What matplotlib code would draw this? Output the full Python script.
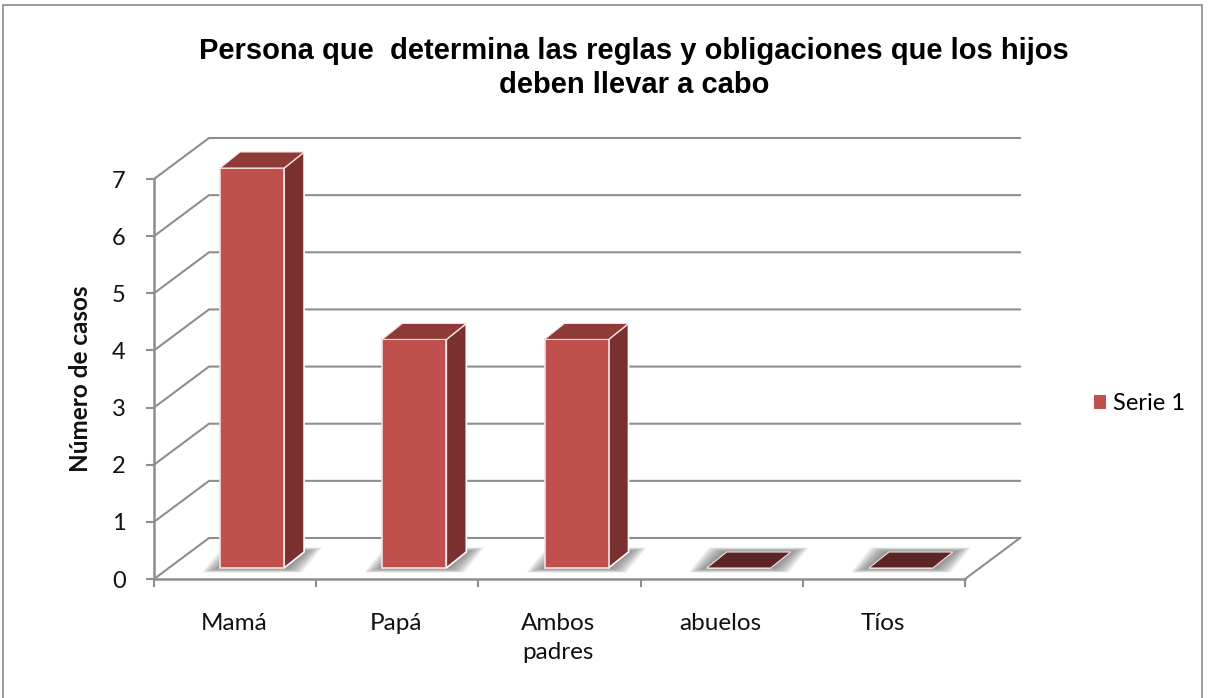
import matplotlib
matplotlib.use('agg')
from matplotlib import pyplot as plt
from matplotlib.patches import Polygon, Rectangle
import numpy as np

title = "Persona que  determina las reglas y obligaciones que los hijos\ndeben llevar a cabo"
categories = ["Mamá", "Papá", "Ambos\npadres", "abuelos", "Tíos"]
values = [7, 4, 4, 0, 0]
y_ticks = [0, 1, 2, 3, 4, 5, 6, 7]
y_label = "Número de casos"
series_name = "Serie 1"

W, H = 1213, 698
FRONT_L, FRONT_R, FRONT_B, FRONT_T = 154, 965, 579, 179

GRID = '#8e8e8e'
FACE = '#c0504d'
SIDE = '#7a302e'
TOP = '#8f3a37'
FLAT = '#5a2522'
EDGE = '#f2e2e1'

fig = plt.figure(figsize=(W / 100, H / 100), dpi=100)
fig.patch.set_facecolor('white')
fig.add_artist(Rectangle((3 / W, -0.01), (1202 - 3) / W, (H - 5) / H + 0.01, transform=fig.transFigure,
                         fill=False, edgecolor='#9a9a9a', linewidth=1.4))

ax = fig.add_axes([FRONT_L / W, 1 - FRONT_B / H, (FRONT_R - FRONT_L) / W, (FRONT_B - FRONT_T) / H])
ax.set_xlim(0, len(categories))
ax.set_ylim(0, 7)
ax.patch.set_alpha(0)
for s in ax.spines.values():
    s.set_visible(False)

# pixel sizes of the fake 3d, in data units
px_x = len(categories) / (FRONT_R - FRONT_L)
px_y = 7 / (FRONT_B - FRONT_T)
depth_x, depth_y = 55 * px_x, 41 * px_y
bar_w = 64 * px_x
bar_shift = 17 * px_x
bar_base = 11 * px_y
bar_dx, bar_dy = 20 * px_x, 16 * px_y
n = len(categories)

# back wall and side wall
for t in y_ticks:
    ax.plot([0, depth_x, n + depth_x], [t, t + depth_y, t + depth_y], color=GRID, lw=1.5, zorder=1,
            clip_on=False, solid_joinstyle='miter')
ax.plot([n, n + depth_x], [0, depth_y], color=GRID, lw=1.5, zorder=1, clip_on=False)
ax.plot([0, n], [0, 0], color=GRID, lw=1.8, zorder=1, clip_on=False)
ax.plot([0, 0], [0, 7], color=GRID, lw=1.8, zorder=1, clip_on=False)

# soft shadows on the floor, footprint of the bar grown step by step
xs = np.arange(n) + 0.5 + bar_shift
for x, v in zip(xs, values):
    l, r = x - bar_w / 2, x + bar_w / 2
    b = bar_base
    for grow in np.arange(18, 0, -1.5):
        gx = grow * px_x
        gy = grow * 0.25 * px_y
        ax.add_patch(Polygon([(l - gx, b - gy), (r + gx, b - gy), (r + bar_dx + gx, b + bar_dy + gy),
                              (l + bar_dx - gx, b + bar_dy + gy)],
                             closed=True, facecolor='#666666', edgecolor='none', alpha=0.09, zorder=2,
                             clip_on=False))

# bars: front face through ax.bar, top and side built from the same values
bars = ax.bar(xs, values, width=bar_w, bottom=bar_base, color=FACE, edgecolor=EDGE, linewidth=1.2, zorder=4,
              label=series_name, clip_on=False)
for x, v in zip(xs, values):
    l, r = x - bar_w / 2, x + bar_w / 2
    top_y = bar_base + v
    top_col = TOP if v > 0 else FLAT
    if v > 0:
        ax.add_patch(Polygon([(r, bar_base), (r + bar_dx, bar_base + bar_dy), (r + bar_dx, top_y + bar_dy), (r, top_y)],
                             closed=True, facecolor=SIDE, edgecolor='white', linewidth=1.2, zorder=3, clip_on=False))
    ax.add_patch(Polygon([(l, top_y), (r, top_y), (r + bar_dx, top_y + bar_dy), (l + bar_dx, top_y + bar_dy)],
                         closed=True, facecolor=top_col, edgecolor=EDGE, linewidth=0.8, zorder=5, clip_on=False))

# axes ticks and labels
ax.set_xticks(np.arange(n + 1))
ax.set_xticklabels([])
ax.set_yticks(y_ticks)
ax.set_yticklabels(y_ticks, fontsize=17, fontfamily='Lato', color='#111111')
ax.tick_params(axis='x', length=6, width=1.5, color=GRID, direction='out')
ax.tick_params(axis='y', length=6, width=1.5, color=GRID, direction='out', pad=14.5)
for i, c in enumerate(categories):
    ax.annotate(c, (i + 0.5, 0), xytext=(-1, -24.5), textcoords='offset points', ha='center', va='top', fontsize=17.5,
                fontfamily='Lato', color='#111111', linespacing=1.47, annotation_clip=False)

fig.text(80 / W, 1 - 379 / H, y_label, rotation=90, ha='center', va='center', fontsize=17.5, fontweight='bold',
         fontfamily='Lato', color='#111111')
fig.text(634 / W, 1 - 68 / H, title, ha='center', va='center', fontsize=21, fontweight='bold',
         fontfamily='Liberation Sans', color='black', linespacing=1.3)

leg = ax.legend(handles=[bars], loc='center left', bbox_to_anchor=(1094 / W, 1 - 404 / H),
                bbox_transform=fig.transFigure, frameon=False, handlelength=0.5, handleheight=0.5, handletextpad=0.3,
                borderpad=0, borderaxespad=0, prop={'family': 'Lato', 'size': 17})
leg.legend_handles[0].set_edgecolor('none')
plt.savefig('out.png', dpi=100)
